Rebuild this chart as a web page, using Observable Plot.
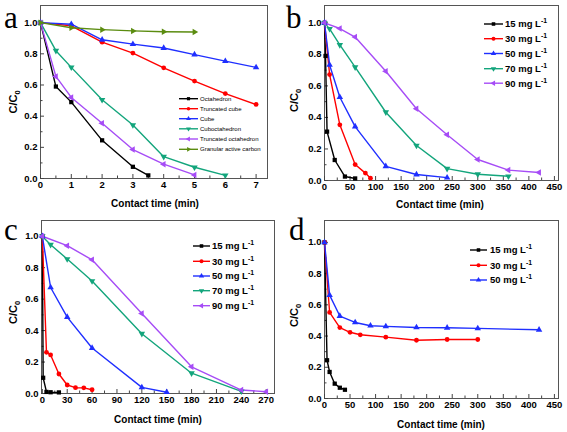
<!DOCTYPE html>
<html><head><meta charset="utf-8">
<script src="https://cdn.jsdelivr.net/npm/d3@7"></script>
<script src="https://cdn.jsdelivr.net/npm/@observablehq/plot@0.6"></script>
<style>
body{margin:0;background:#fff;}
#root{position:relative;width:567px;height:432px;overflow:hidden;background:#fff;}
#root svg{position:absolute;}
</style></head><body><div id="root"></div>
<script>
// ---------- data ----------
const timeLabel = "Contact time (min)";
const concNames5 = ["15", "30", "50", "70", "90"];

// panel a
const aNames = ["Octahedron","Truncated cube","Cube","Cuboctahedron","Truncated octahedron","Granular active carbon"];
const aOctaT = [0,0.5,1,2,3,3.5];        const aOctaV = [1.0,0.59,0.49,0.245,0.075,0.02];
const aTCubeT = [0,1,2,3,4,5,6,7];       const aTCubeV = [1.0,0.98,0.875,0.805,0.71,0.625,0.545,0.475];
const aCubeT = [0,1,2,3,4,5,6,7];        const aCubeV = [1.0,0.99,0.89,0.862,0.837,0.795,0.753,0.713];
const aCuboT = [0,0.5,1,2,3,4,5,6];      const aCuboV = [1.0,0.82,0.713,0.505,0.343,0.14,0.072,0.02];
const aTOctT = [0,0.5,1,2,3,4,5];        const aTOctV = [1.0,0.655,0.52,0.355,0.186,0.092,0.023];
const aGacT = [0,1,2,3,4,5];             const aGacV = [1.0,0.967,0.955,0.947,0.942,0.94];

// panel b
const b15T = [0,2,5,20,40,60];                     const b15V = [1.0,0.79,0.31,0.13,0.025,0.013];
const b30T = [0,10,30,60,80,90];                   const b30V = [1.0,0.672,0.353,0.101,0.047,0.015];
const b50T = [0,10,30,60,120,180,240];             const b50V = [1.0,0.733,0.528,0.342,0.09,0.038,0.018];
const b70T = [0,10,30,60,120,180,240,300,360];     const b70V = [1.0,0.962,0.86,0.719,0.433,0.222,0.075,0.04,0.027];
const b90T = [0,30,60,120,180,240,300,360,420];    const b90V = [1.0,0.964,0.91,0.693,0.455,0.29,0.133,0.066,0.051];

// panel c
const c15T = [0,1,5,10,20];                        const c15V = [1.0,0.10,0.01,0.008,0.007];
const c30T = [0,5,10,20,30,40,50,60];              const c30V = [1.0,0.262,0.245,0.124,0.054,0.037,0.036,0.024];
const c50T = [0,10,30,60,120,150];                 const c50V = [1.0,0.674,0.486,0.289,0.039,0.008];
const c70T = [0,10,30,60,120,180,240];             const c70V = [1.0,0.946,0.855,0.715,0.38,0.129,0.014];
const c90T = [0,30,60,120,180,240,270];            const c90V = [1.0,0.94,0.85,0.509,0.17,0.022,0.011];

// panel d
const d15T = [0,5,10,20,30,40];                            const d15V = [1.0,0.245,0.17,0.095,0.069,0.056];
const d30T = [0,10,30,50,70,120,180,240,300];              const d30V = [1.0,0.551,0.454,0.424,0.408,0.393,0.373,0.378,0.378];
const d50T = [0,10,30,60,90,120,180,240,300,420];          const d50V = [1.0,0.662,0.528,0.487,0.466,0.462,0.455,0.453,0.449,0.44];

// ticks
const yMajor = [0,0.2,0.4,0.6,0.8,1.0];
const yMinor = [0.1,0.3,0.5,0.7,0.9];
const aXMajor = [0,1,2,3,4,5,6,7];       const aXMinor = [0.5,1.5,2.5,3.5,4.5,5.5,6.5];
const bdXMajor = [0,50,100,150,200,250,300,350,400,450]; const bdXMinor = [25,75,125,175,225,275,325,375,425];
const cXMajor = [0,30,60,90,120,150,180,210,240,270];    const cXMinor = [15,45,75,105,135,165,195,225,255];

// styles
const colors = ["#000000","#ff0000","#1f2fff","#13a57c","#a64cf6","#5b8c10"];
const symbols = ["square","circle","triangle","triangle","triangle","triangle"];
const rotations = [0,0,0,180,-90,90];
const FONT = '"Liberation Sans", Arial, sans-serif';

// ---------- drawing ----------
const root = document.getElementById("root");

function makePanel(cfg) {
  const marks = [
    Plot.frame({stroke: "#555", strokeWidth: 1}),
    Plot.axisX(cfg.xMajor, {tickSize: -4, tickFormat: () => "", label: null, stroke: "#444"}),
    Plot.axisX(cfg.xMinor, {tickSize: -2.5, tickFormat: () => "", label: null, stroke: "#444"}),
    Plot.axisX(cfg.xMajor, {tickSize: 0, tickPadding: 3, label: null, fontSize: 9.5, fontWeight: "bold", fill: "#000"}),
    Plot.axisY(yMajor, {tickSize: -4, tickFormat: () => "", label: null, stroke: "#444"}),
    Plot.axisY(yMinor, {tickSize: -2.5, tickFormat: () => "", label: null, stroke: "#444"}),
    Plot.axisY(yMajor, {tickSize: 0, tickPadding: 3, label: null, tickFormat: d3.format(".1f"), fontSize: 9.5, fontWeight: "bold", fill: "#000"})
  ];
  cfg.series.forEach((s, i) => {
    const rows = s.t.map((t, j) => ({t, v: s.v[j]}));
    marks.push(Plot.line(rows, {x: "t", y: "v", stroke: colors[i], strokeWidth: 1.4}));
  });
  cfg.series.forEach((s, i) => {
    const rows = s.t.map((t, j) => ({t, v: s.v[j]}));
    marks.push(Plot.dot(rows, {x: "t", y: "v", symbol: symbols[i], rotate: rotations[i], fill: colors[i], stroke: "none", r: 2.4}));
  });
  const svg = Plot.plot({
    width: cfg.width, height: cfg.height,
    marginLeft: cfg.m[0], marginRight: cfg.m[1], marginTop: cfg.m[2], marginBottom: cfg.m[3],
    x: {domain: cfg.xDomain},
    y: {domain: cfg.yDomain},
    style: {fontFamily: FONT, background: "transparent", color: "#000", overflow: "visible"},
    marks
  });
  svg.style.left = cfg.left + "px";
  svg.style.top = cfg.top + "px";
  root.appendChild(svg);
}

makePanel({left: 0, top: 0, width: 283, height: 215, m: [40, 16, 5, 37],
  xDomain: [0, 7.37], yDomain: [0, 1.11], xMajor: aXMajor, xMinor: aXMinor,
  series: [{t: aOctaT, v: aOctaV}, {t: aTCubeT, v: aTCubeV}, {t: aCubeT, v: aCubeV},
           {t: aCuboT, v: aCuboV}, {t: aTOctT, v: aTOctV}, {t: aGacT, v: aGacV}]});

makePanel({left: 283, top: 0, width: 284, height: 215, m: [41, 9, 5, 35],
  xDomain: [0, 458], yDomain: [0, 1.11], xMajor: bdXMajor, xMinor: bdXMinor,
  series: [{t: b15T, v: b15V}, {t: b30T, v: b30V}, {t: b50T, v: b50V}, {t: b70T, v: b70V}, {t: b90T, v: b90V}]});

makePanel({left: 0, top: 215, width: 283, height: 217, m: [41, 9, 5, 39],
  xDomain: [-1, 280], yDomain: [0, 1.1], xMajor: cXMajor, xMinor: cXMinor,
  series: [{t: c15T, v: c15V}, {t: c30T, v: c30V}, {t: c50T, v: c50V}, {t: c70T, v: c70V}, {t: c90T, v: c90V}]});

makePanel({left: 283, top: 215, width: 284, height: 217, m: [41, 9, 5, 34],
  xDomain: [0, 458], yDomain: [0, 1.14], xMajor: bdXMajor, xMinor: bdXMinor,
  series: [{t: d15T, v: d15V}, {t: d30T, v: d30V}, {t: d50T, v: d50V}]});

// ---------- overlay texts & legends ----------
const ov = d3.create("svg").attr("width", 567).attr("height", 432)
  .style("left", "0px").style("top", "0px").style("font-family", FONT);

// panel letters
[["a", 4, 28], ["b", 286, 28], ["c", 4, 240], ["d", 289, 240]].forEach(([s, x, y]) =>
  ov.append("text").attr("x", x).attr("y", y).attr("font-family", '"Liberation Serif", "Times New Roman", serif')
    .attr("font-size", 31).text(s));

// x titles
[[155, 207], [440, 208], [158, 422.5], [441, 427.5]].forEach(([x, y]) =>
  ov.append("text").attr("x", x).attr("y", y).attr("text-anchor", "middle")
    .attr("font-size", 10).attr("font-weight", "bold").text(timeLabel));

// y titles
[[17, 102], [298, 100.5], [17, 312.5], [298, 315.5]].forEach(([x, y]) => {
  const t = ov.append("text").attr("transform", `translate(${x},${y}) rotate(-90)`)
    .attr("text-anchor", "middle").attr("font-size", 11).attr("font-weight", "bold");
  t.append("tspan").text("C/C");
  t.append("tspan").attr("font-size", 7.5).attr("dy", 3).text("0");
});

const symMap = {square: d3.symbolSquare, circle: d3.symbolCircle, triangle: d3.symbolTriangle};
function legend(names, rowsY, x0, x1, tx, fontSize, fontWeight, r, sup) {
  names.forEach((name, i) => {
    const y = rowsY[i];
    ov.append("line").attr("x1", x0).attr("x2", x1).attr("y1", y).attr("y2", y)
      .attr("stroke", colors[i]).attr("stroke-width", 1.4);
    ov.append("path").attr("d", d3.symbol(symMap[symbols[i]], Math.PI * r * r)())
      .attr("transform", `translate(${(x0 + x1) / 2},${y}) rotate(${rotations[i]})`)
      .attr("fill", colors[i]);
    const t = ov.append("text").attr("x", tx).attr("y", y).attr("dy", "0.35em")
      .attr("font-size", fontSize).attr("font-weight", fontWeight);
    if (sup) {
      t.append("tspan").text(name + " mg L");
      t.append("tspan").attr("font-size", fontSize * 0.72).attr("dy", -4).text("-1");
    } else t.text(name);
  });
}
legend(aNames, [98.7, 108.7, 118.7, 128.8, 139, 149.3], 179, 198, 200, 6, "normal", 1.8, false);
legend(concNames5, [24, 38.7, 53.5, 68.7, 83.2], 484, 503, 505, 9.5, "bold", 2, true);
legend(concNames5, [246, 261.3, 276, 290.7, 305.7], 193, 210, 212, 9.5, "bold", 2, true);
legend(concNames5.slice(0, 3), [250, 265.3, 280], 470, 487, 490, 9.5, "bold", 2, true);

root.appendChild(ov.node());
</script></body></html>
